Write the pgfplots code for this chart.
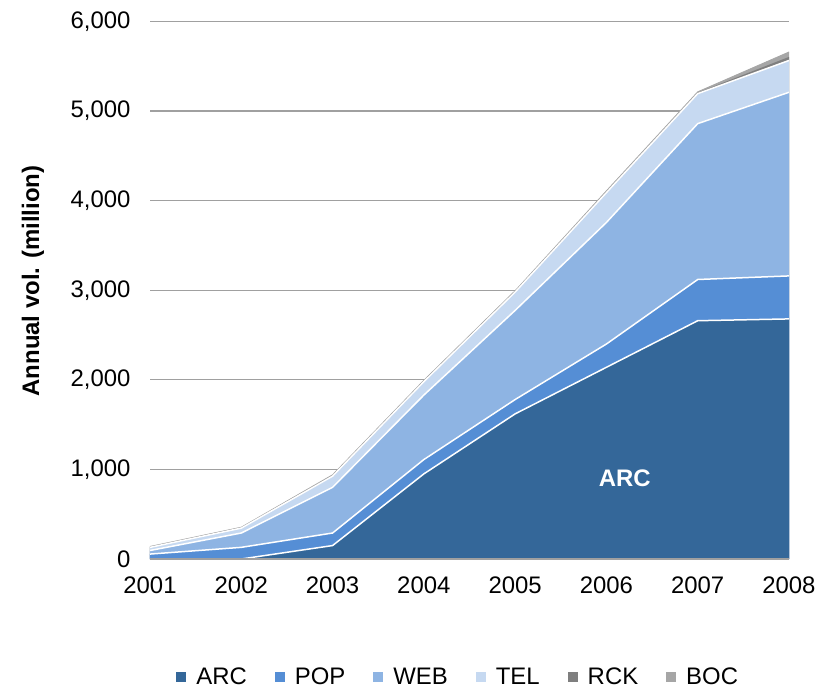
\documentclass[border=0pt]{standalone}
\usepackage{pgfplots}
\usepackage{pgfplotstable}
\pgfplotsset{compat=1.18}
\usepackage{fontspec}
\setmainfont{Liberation Sans}

\definecolor{arc}{RGB}{52,103,153}
\definecolor{pop}{RGB}{85,142,213}
\definecolor{web}{RGB}{142,180,227}
\definecolor{tel}{RGB}{198,217,241}
\definecolor{rck}{RGB}{127,127,127}
\definecolor{boc}{RGB}{166,166,166}
\definecolor{gridgray}{RGB}{160,160,160}

\newcommand{\chartfont}{\fontsize{24}{28}\selectfont}

\pgfplotsset{
  frame/.style={
    scale only axis,
    width=639bp, height=537.5bp,
    xmin=2001, xmax=2008,
    ymin=0, ymax=6000,
    major tick length=0pt,
  },
  band/.style={draw=none, fill=#1, mark=none},
  edge/.style={draw=#1, line width=1.5bp, mark=none, forget plot},
}

% cumulative annual volume (million) at the top of each category band
\pgfplotstableread{
year  arc   pop   web   tel   rck   boc
2001  0     55    95    130   135   140
2002  0     130   290   345   350   355
2003  150   290   800   925   935   940
2004  950   1110  1830  1980  1990  1995
2005  1620  1780  2775  2980  2990  2995
2006  2140  2400  3757  4090  4100  4110
2007  2660  3120  4860  5195  5205  5215
2008  2680  3160  5210  5565  5605  5660
}\stacktops

\begin{document}
\begin{tikzpicture}
% background: horizontal grid
\begin{axis}[
  frame,
  axis line style={draw=none},
  xtick=\empty,
  ytick={1000,2000,...,6000},
  yticklabel=\empty,
  ymajorgrids,
  grid style={draw=gridgray, line width=1.2bp},
]
\addplot[draw=none] coordinates {(2001,0) (2008,0)};
\end{axis}
% category bands, labels and legend
\begin{axis}[
  frame,
  axis on top,
  axis x line=bottom,
  axis y line=left,
  axis line style={-},
  x axis line style={draw=gridgray, line width=2.2bp},
  y axis line style={draw=none},
  xtick={2001,...,2008},
  ytick={0,1000,...,6000},
  /pgf/number format/assume math mode=true,
  xticklabel style={font=\chartfont, /pgf/number format/1000 sep={}, yshift=-14bp},
  yticklabel style={font=\chartfont, /pgf/number format/1000 sep={,}, xshift=-16bp},
  ylabel={\textbf{Annual vol. (million)}},
  ylabel style={font=\chartfont, at={(axis description cs:-0.183,0.517)}, anchor=center},
  legend columns=-1,
  reverse legend,
  legend image code/.code={\fill[#1, draw=none] (0bp,-5bp) rectangle (10bp,5bp);},
  legend style={draw=none, fill=none, inner sep=0pt, font=\chartfont,
    at={(axis description cs:0.482,-0.2195)}, anchor=center,
    nodes={inner sep=1.5bp},
    /tikz/every odd column/.append style={column sep=8.5bp},
    /tikz/every even column/.append style={column sep=26.5bp}},
]
\addplot[band=boc] table[x=year, y=boc] {\stacktops} \closedcycle;
\addplot[edge=boc, line width=0.8bp] table[x=year, y=boc] {\stacktops};
\addplot[band=rck] table[x=year, y=rck] {\stacktops} \closedcycle;
\addplot[band=tel] table[x=year, y=tel] {\stacktops} \closedcycle;
\addplot[edge=white] table[x=year, y=tel] {\stacktops};
\addplot[band=web] table[x=year, y=web] {\stacktops} \closedcycle;
\addplot[edge=white] table[x=year, y=web] {\stacktops};
\addplot[band=pop] table[x=year, y=pop] {\stacktops} \closedcycle;
\addplot[edge=white] table[x=year, y=pop] {\stacktops};
\addplot[band=arc] table[x=year, y=arc] {\stacktops} \closedcycle;
\addplot[edge=white] table[x=year, y=arc] {\stacktops};
\legend{BOC,RCK,TEL,WEB,POP,ARC}
\node[font=\chartfont\bfseries, text=white] at (axis cs:2006.2,900) {ARC};
\end{axis}
\pgfresetboundingbox
\path ([shift={(-150bp,-128bp)}]current axis.south west)
  rectangle ([shift={(44bp,21.5bp)}]current axis.north east);
\end{tikzpicture}
\end{document}
